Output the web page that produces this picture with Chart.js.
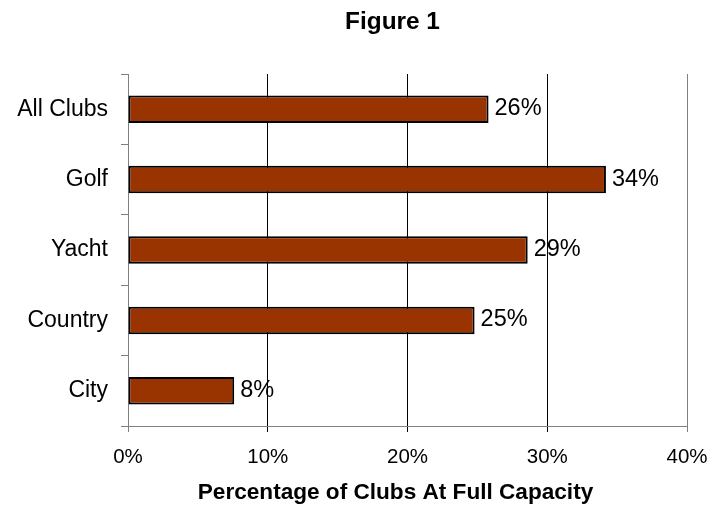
<!DOCTYPE html>
<html><head><meta charset="utf-8">
<script src="https://cdn.jsdelivr.net/npm/chart.js@4"></script>
<style>html,body{margin:0;padding:0;background:#fff}#wrap{width:709px;height:511px}</style>
</head><body><div id="wrap"><canvas id="c" width="709" height="511"></canvas></div>
<script>
const categories = ["All Clubs", "Golf", "Yacht", "Country", "City"];
const values = [25.8, 34.2, 28.6, 24.8, 7.6];
const valueLabels = ["26%", "34%", "29%", "25%", "8%"];
const xTicks = [0, 10, 20, 30, 40];
const chartTitle = "Figure 1";
const xAxisTitle = "Percentage of Clubs At Full Capacity";
const FONT = "'Liberation Sans', Arial, sans-serif";

const textPlugin = {
  id: 'texts',
  afterDatasetsDraw(chart) {
    const ctx = chart.ctx;
    const meta = chart.getDatasetMeta(0);
    ctx.save();
    ctx.font = "23.5px " + FONT;
    ctx.fillStyle = "#000";
    ctx.textAlign = "left";
    ctx.textBaseline = "alphabetic";
    meta.data.forEach((bar, i) => {
      ctx.fillText(valueLabels[i], bar.x + 6, bar.y + 6);
    });
    ctx.restore();
  },
  afterDraw(chart) {
    const ctx = chart.ctx;
    ctx.save();
    ctx.fillStyle = "#000";
    ctx.textAlign = "center";
    ctx.textBaseline = "alphabetic";
    ctx.font = "bold 24.4px " + FONT;
    ctx.fillText(chartTitle, 392.5, 28.5);
    ctx.font = "bold 22.6px " + FONT;
    ctx.fillText(xAxisTitle, 395.5, 499);
    ctx.restore();
  }
};

new Chart(document.getElementById('c'), {
  type: 'bar',
  data: {
    labels: categories,
    datasets: [{
      data: values,
      backgroundColor: '#993300',
      borderColor: '#000',
      borderWidth: 2,
      borderSkipped: false,
      categoryPercentage: 1,
      barPercentage: 0.39
    }]
  },
  options: {
    indexAxis: 'y',
    responsive: false,
    animation: false,
    devicePixelRatio: 1,
    layout: { padding: { left: 0, right: 22, top: 74, bottom: 0 } },
    plugins: {
      legend: { display: false },
      tooltip: { enabled: false },
      title: { display: false }
    },
    scales: {
      x: {
        min: 0, max: 40,
        afterBuildTicks: s => { s.ticks = xTicks.map(v => ({ value: v })); },
        afterFit: s => { s.height = 85; s.paddingLeft = 0; s.paddingRight = 0; },
        border: { display: true, color: '#808080', width: 1 },
        grid: {
          color: c => (c.index === 0 || c.index === 4) ? '#808080' : '#000',
          lineWidth: 1,
          tickLength: 6,
          drawTicks: true
        },
        ticks: {
          color: '#000',
          font: { family: FONT, size: 20.5 },
          padding: 13,
          maxRotation: 0,
          callback: v => v + '%'
        }
      },
      y: {
        afterFit: s => { s.width = 128; },
        border: { display: true, color: '#808080', width: 1 },
        grid: {
          offset: true,
          drawOnChartArea: false,
          color: '#808080',
          tickLength: 7
        },
        ticks: {
          color: '#000',
          font: { family: FONT, size: 23 },
          padding: 13
        }
      }
    }
  },
  plugins: [textPlugin]
});
</script></body></html>
